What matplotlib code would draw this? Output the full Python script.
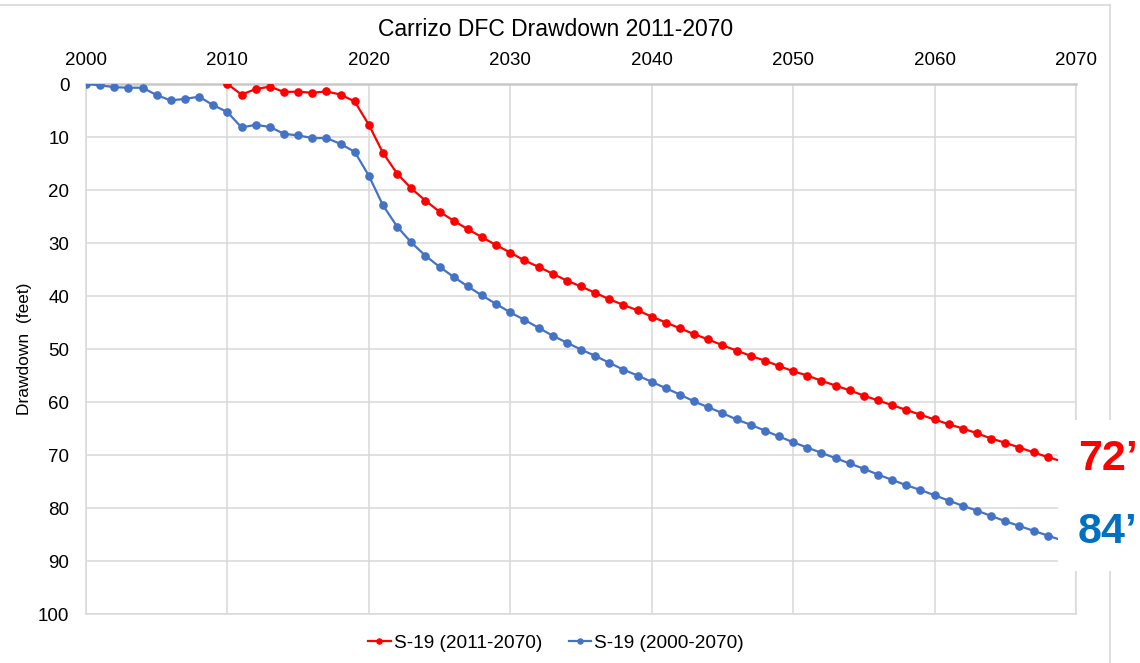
import matplotlib.pyplot as plt
from matplotlib.lines import Line2D
from matplotlib.patches import Rectangle

plt.rcParams['font.family'] = ['Liberation Sans', 'DejaVu Sans']

# S-19 (2011-2070), years 2010..2070
red_years = list(range(2010, 2071))
red_vals = [0.0, 2.0, 0.95, 0.5, 1.5, 1.45, 1.65, 1.4, 2.0, 3.3,
            7.7, 13.0, 16.9, 19.7, 22.0, 24.1, 25.8, 27.4, 28.9, 30.4,
            31.8, 33.3, 34.5, 35.8, 37.1, 38.2, 39.4, 40.6, 41.7, 42.7,
            43.9, 45.0, 46.1, 47.2, 48.2, 49.3, 50.3, 51.3, 52.2, 53.2,
            54.2, 55.0, 56.0, 56.9, 57.8, 58.8, 59.7, 60.6, 61.5, 62.4,
            63.3, 64.2, 65.0, 65.9, 66.9, 67.7, 68.6, 69.5, 70.4, 71.2,
            72.0]

# S-19 (2000-2070), years 2000..2070
blue_years = list(range(2000, 2071))
blue_vals = [0.0, 0.25, 0.6, 0.7, 0.7, 2.1, 3.1, 2.8, 2.4, 4.0,
             5.3, 8.2, 7.7, 8.1, 9.4, 9.7, 10.2, 10.2, 11.3, 12.8,
             17.3, 22.9, 26.9, 29.9, 32.4, 34.5, 36.4, 38.2, 39.9, 41.5,
             43.1, 44.5, 46.0, 47.5, 48.8, 50.1, 51.3, 52.6, 53.9, 55.0,
             56.2, 57.4, 58.6, 59.9, 61.0, 62.1, 63.3, 64.3, 65.4, 66.5,
             67.6, 68.6, 69.6, 70.6, 71.6, 72.6, 73.7, 74.7, 75.7, 76.6,
             77.6, 78.6, 79.6, 80.5, 81.5, 82.5, 83.4, 84.3, 85.2, 86.1,
             87.0]

x_ticks = list(range(2000, 2071, 10))
y_ticks = list(range(0, 101, 10))

RED = '#FF0000'
BLUE = '#4472C4'
GRID = '#D9D9D9'

fig = plt.figure(figsize=(11.4, 6.63), dpi=100)
ax = fig.add_axes([0.0754, 0.0739, 0.8685, 0.7994])

ax.plot(red_years, red_vals, color=RED, lw=1.6, marker='o', ms=5.2,
        label='S-19 (2011-2070)', zorder=3)
ax.plot(blue_years, blue_vals, color=BLUE, lw=1.6, marker='o', ms=5.2,
        label='S-19 (2000-2070)', zorder=3)

ax.set_xlim(2000, 2070)
ax.set_ylim(100, 0)
ax.set_xticks(x_ticks)
ax.set_yticks(y_ticks)
ax.xaxis.tick_top()
ax.tick_params(axis='both', length=0, labelsize=13.5, colors='black')
ax.tick_params(axis='x', pad=11)
ax.tick_params(axis='y', pad=12)
ax.grid(True, color=GRID, lw=1.1)
ax.set_axisbelow(True)
for side in ['left', 'right', 'bottom']:
    ax.spines[side].set_color(GRID)
    ax.spines[side].set_linewidth(1.1)
ax.spines['top'].set_color('#C8C8C8')
ax.spines['top'].set_linewidth(1.8)

fig.text(25 / 1140, 1 - 349 / 663, 'Drawdown  (feet)', rotation=90, ha='center', va='center',
         fontsize=12.5)
fig.text(0.487, 1 - 30 / 663, 'Carrizo DFC Drawdown 2011-2070', ha='center', va='center',
         fontsize=16.5)

leg = ax.legend(loc='center', bbox_to_anchor=(0.4877, 1 - 643 / 663), bbox_transform=fig.transFigure,
                ncol=2, frameon=False, fontsize=13.7, handlelength=1.2,
                handletextpad=0.15, columnspacing=1.4, markerscale=0.7)

# chart area border
fig.add_artist(Line2D([1110 / 1140, 1110 / 1140], [0, 0.992], color=GRID, lw=1.2,
                      transform=fig.transFigure))
fig.add_artist(Line2D([0, 1110 / 1140], [0.992, 0.992], color=GRID, lw=1.2,
                      transform=fig.transFigure))

# white box with final drawdown labels
fig.add_artist(Rectangle((1058 / 1140, 1 - 571 / 663), 82 / 1140, 151 / 663,
                         facecolor='white', edgecolor='none',
                         transform=fig.transFigure, zorder=10))
fig.text(1078 / 1140, 1 - 459 / 663, '72’', color=RED, fontsize=31, fontweight='bold',
         ha='left', va='center', zorder=11)
fig.text(1078 / 1140, 1 - 532 / 663, '84’', color='#0070C0', fontsize=31, fontweight='bold',
         ha='left', va='center', zorder=11)

fig.savefig('out.png', dpi=100)
